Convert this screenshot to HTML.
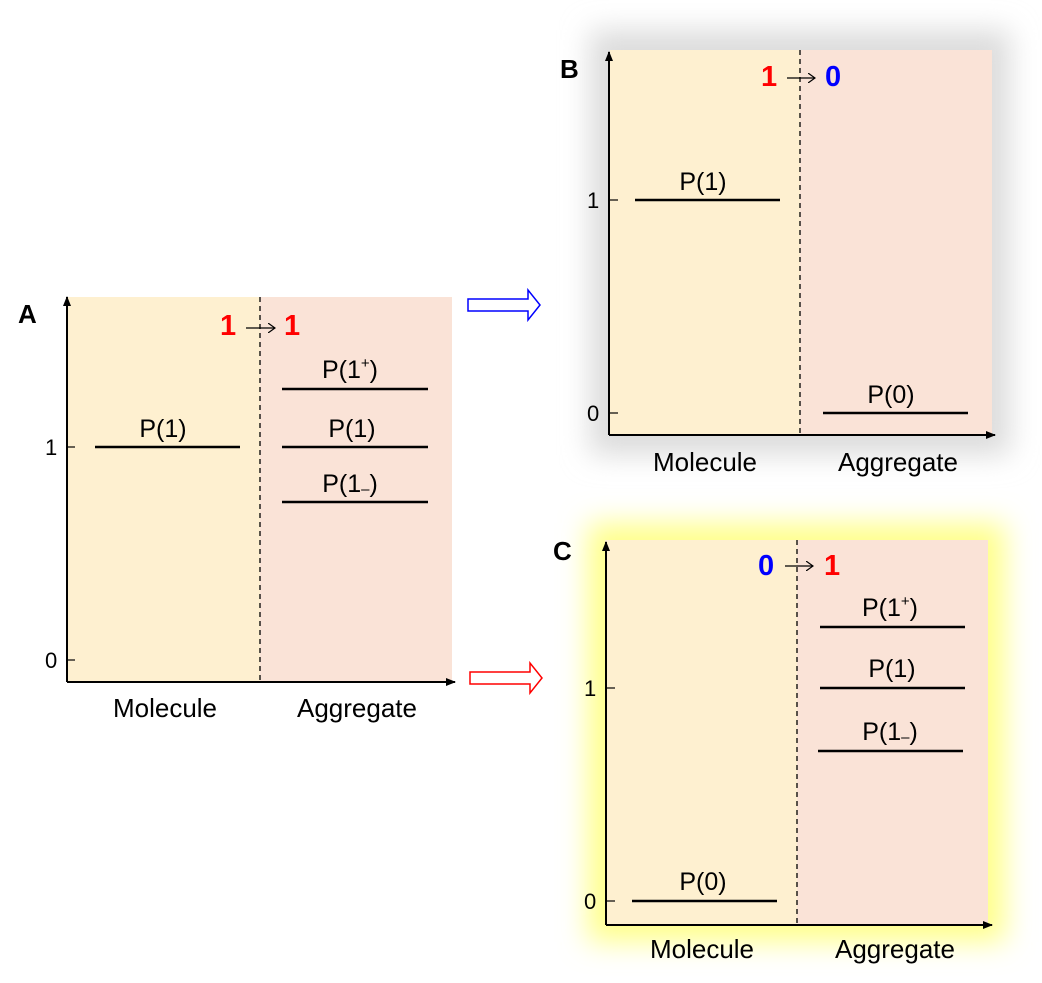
<!DOCTYPE html>
<html><head><meta charset="utf-8"><style>
html,body{margin:0;padding:0;background:#fff;}
svg{display:block;font-family:"Liberation Sans",Arial,sans-serif;}
</style></head><body>
<svg width="1042" height="983" viewBox="0 0 1042 983" xmlns="http://www.w3.org/2000/svg">
<defs>
<filter id="blur" x="-20%" y="-20%" width="140%" height="140%"><feGaussianBlur stdDeviation="14"/></filter>
<marker id="ah" markerWidth="10" markerHeight="8" refX="9" refY="4" orient="auto" markerUnits="userSpaceOnUse"><path d="M0,0 L10,4 L0,8 Z" fill="#000"/></marker>
<marker id="sa" markerWidth="8" markerHeight="10" refX="7" refY="5" orient="auto" markerUnits="userSpaceOnUse"><path d="M0,0 L7,5 L0,10" fill="none" stroke="#000" stroke-width="1.2"/></marker>
</defs>

<!-- Panel A -->
<rect x="68" y="297" width="192" height="385" fill="#fef0d0"/>
<rect x="260" y="297" width="192" height="385" fill="#fae3d7"/>
<line x1="260" y1="297" x2="260" y2="682" stroke="#000" stroke-width="1.3" stroke-dasharray="5,4"/>
<line x1="67" y1="682" x2="67" y2="297" stroke="#000" stroke-width="2" marker-end="url(#ah)"/>
<line x1="67" y1="682" x2="455" y2="682" stroke="#000" stroke-width="2" marker-end="url(#ah)"/>
<line x1="67" y1="447" x2="75" y2="447" stroke="#000" stroke-width="1.2"/>
<line x1="67" y1="660" x2="75" y2="660" stroke="#000" stroke-width="1.2"/>
<text x="45" y="455" font-size="22">1</text>
<text x="45" y="668" font-size="22">0</text>
<text x="18" y="323" font-size="26" font-weight="bold">A</text>
<text x="220" y="335" font-size="29" font-weight="bold" fill="#f00">1</text>
<line x1="246" y1="328" x2="275" y2="328" stroke="#000" stroke-width="1.3" marker-end="url(#sa)"/>
<text x="284" y="335" font-size="29" font-weight="bold" fill="#f00">1</text>
<line x1="95" y1="447" x2="240" y2="447" stroke="#000" stroke-width="2.5"/>
<text x="163" y="437" font-size="25" text-anchor="middle">P(1)</text>
<line x1="282" y1="389" x2="428" y2="389" stroke="#000" stroke-width="2.5"/>
<text x="350" y="378" font-size="25" text-anchor="middle">P(1<tspan font-size="15" dy="-10">+</tspan><tspan dy="10">)</tspan></text>
<line x1="282" y1="447" x2="428" y2="447" stroke="#000" stroke-width="2.5"/>
<text x="352" y="437" font-size="25" text-anchor="middle">P(1)</text>
<line x1="282" y1="502" x2="428" y2="502" stroke="#000" stroke-width="2.5"/>
<text x="350" y="492" font-size="25" text-anchor="middle">P(1<tspan font-size="15" dy="2">–</tspan><tspan dy="-2">)</tspan></text>
<text x="165" y="717" font-size="26" text-anchor="middle">Molecule</text>
<text x="357" y="717" font-size="26" text-anchor="middle">Aggregate</text>

<!-- hollow arrows -->
<path d="M468,299 L528,299 L528,290 L540,305 L528,320 L528,311 L468,311 Z" fill="#fff" stroke="#00f" stroke-width="1.5"/>
<path d="M470,672 L530,672 L530,663 L542,678 L530,693 L530,684 L470,684 Z" fill="#fff" stroke="#f00" stroke-width="1.5"/>

<!-- Panel B -->
<rect x="590" y="30" width="420" height="425" fill="#dcdcdc" filter="url(#blur)"/>
<rect x="610" y="50" width="190" height="385" fill="#fef0d0"/>
<rect x="800" y="50" width="192" height="385" fill="#fae3d7"/>
<line x1="800" y1="50" x2="800" y2="435" stroke="#000" stroke-width="1.3" stroke-dasharray="5,4"/>
<line x1="609" y1="435" x2="609" y2="52" stroke="#000" stroke-width="2" marker-end="url(#ah)"/>
<line x1="609" y1="435" x2="995" y2="435" stroke="#000" stroke-width="2" marker-end="url(#ah)"/>
<line x1="609" y1="200" x2="618" y2="200" stroke="#000" stroke-width="1.2"/>
<line x1="609" y1="413" x2="618" y2="413" stroke="#000" stroke-width="1.2"/>
<text x="587" y="208" font-size="22">1</text>
<text x="587" y="421" font-size="22">0</text>
<text x="560" y="78" font-size="26" font-weight="bold">B</text>
<text x="761" y="86" font-size="29" font-weight="bold" fill="#f00">1</text>
<line x1="787" y1="78" x2="815" y2="78" stroke="#000" stroke-width="1.3" marker-end="url(#sa)"/>
<text x="825" y="86" font-size="29" font-weight="bold" fill="#00f">0</text>
<line x1="635" y1="200" x2="780" y2="200" stroke="#000" stroke-width="2.5"/>
<text x="703" y="190" font-size="25" text-anchor="middle">P(1)</text>
<line x1="823" y1="413" x2="968" y2="413" stroke="#000" stroke-width="2.5"/>
<text x="891" y="403" font-size="25" text-anchor="middle">P(0)</text>
<text x="705" y="471" font-size="26" text-anchor="middle">Molecule</text>
<text x="898" y="471" font-size="26" text-anchor="middle">Aggregate</text>

<!-- Panel C -->
<rect x="588" y="523" width="417" height="419" fill="#ffff8a" filter="url(#blur)"/>
<rect x="605" y="540" width="192" height="385" fill="#fef0d0"/>
<rect x="797" y="540" width="191" height="385" fill="#fae3d7"/>
<line x1="797" y1="540" x2="797" y2="925" stroke="#000" stroke-width="1.3" stroke-dasharray="5,4"/>
<line x1="606" y1="925" x2="606" y2="542" stroke="#000" stroke-width="2" marker-end="url(#ah)"/>
<line x1="606" y1="925" x2="992" y2="925" stroke="#000" stroke-width="2" marker-end="url(#ah)"/>
<line x1="606" y1="688" x2="615" y2="688" stroke="#000" stroke-width="1.2"/>
<line x1="606" y1="901" x2="615" y2="901" stroke="#000" stroke-width="1.2"/>
<text x="584" y="696" font-size="22">1</text>
<text x="584" y="909" font-size="22">0</text>
<text x="553" y="560" font-size="26" font-weight="bold">C</text>
<text x="758" y="575" font-size="29" font-weight="bold" fill="#00f">0</text>
<line x1="785" y1="566" x2="813" y2="566" stroke="#000" stroke-width="1.3" marker-end="url(#sa)"/>
<text x="824" y="575" font-size="29" font-weight="bold" fill="#f00">1</text>
<line x1="820" y1="627" x2="965" y2="627" stroke="#000" stroke-width="2.5"/>
<text x="890" y="616" font-size="25" text-anchor="middle">P(1<tspan font-size="15" dy="-10">+</tspan><tspan dy="10">)</tspan></text>
<line x1="820" y1="688" x2="965" y2="688" stroke="#000" stroke-width="2.5"/>
<text x="892" y="677" font-size="25" text-anchor="middle">P(1)</text>
<line x1="818" y1="751" x2="963" y2="751" stroke="#000" stroke-width="2.5"/>
<text x="890" y="740" font-size="25" text-anchor="middle">P(1<tspan font-size="15" dy="2">–</tspan><tspan dy="-2">)</tspan></text>
<line x1="632" y1="901" x2="777" y2="901" stroke="#000" stroke-width="2.5"/>
<text x="703" y="890" font-size="25" text-anchor="middle">P(0)</text>
<text x="702" y="958" font-size="26" text-anchor="middle">Molecule</text>
<text x="895" y="958" font-size="26" text-anchor="middle">Aggregate</text>
</svg>
</body></html>
